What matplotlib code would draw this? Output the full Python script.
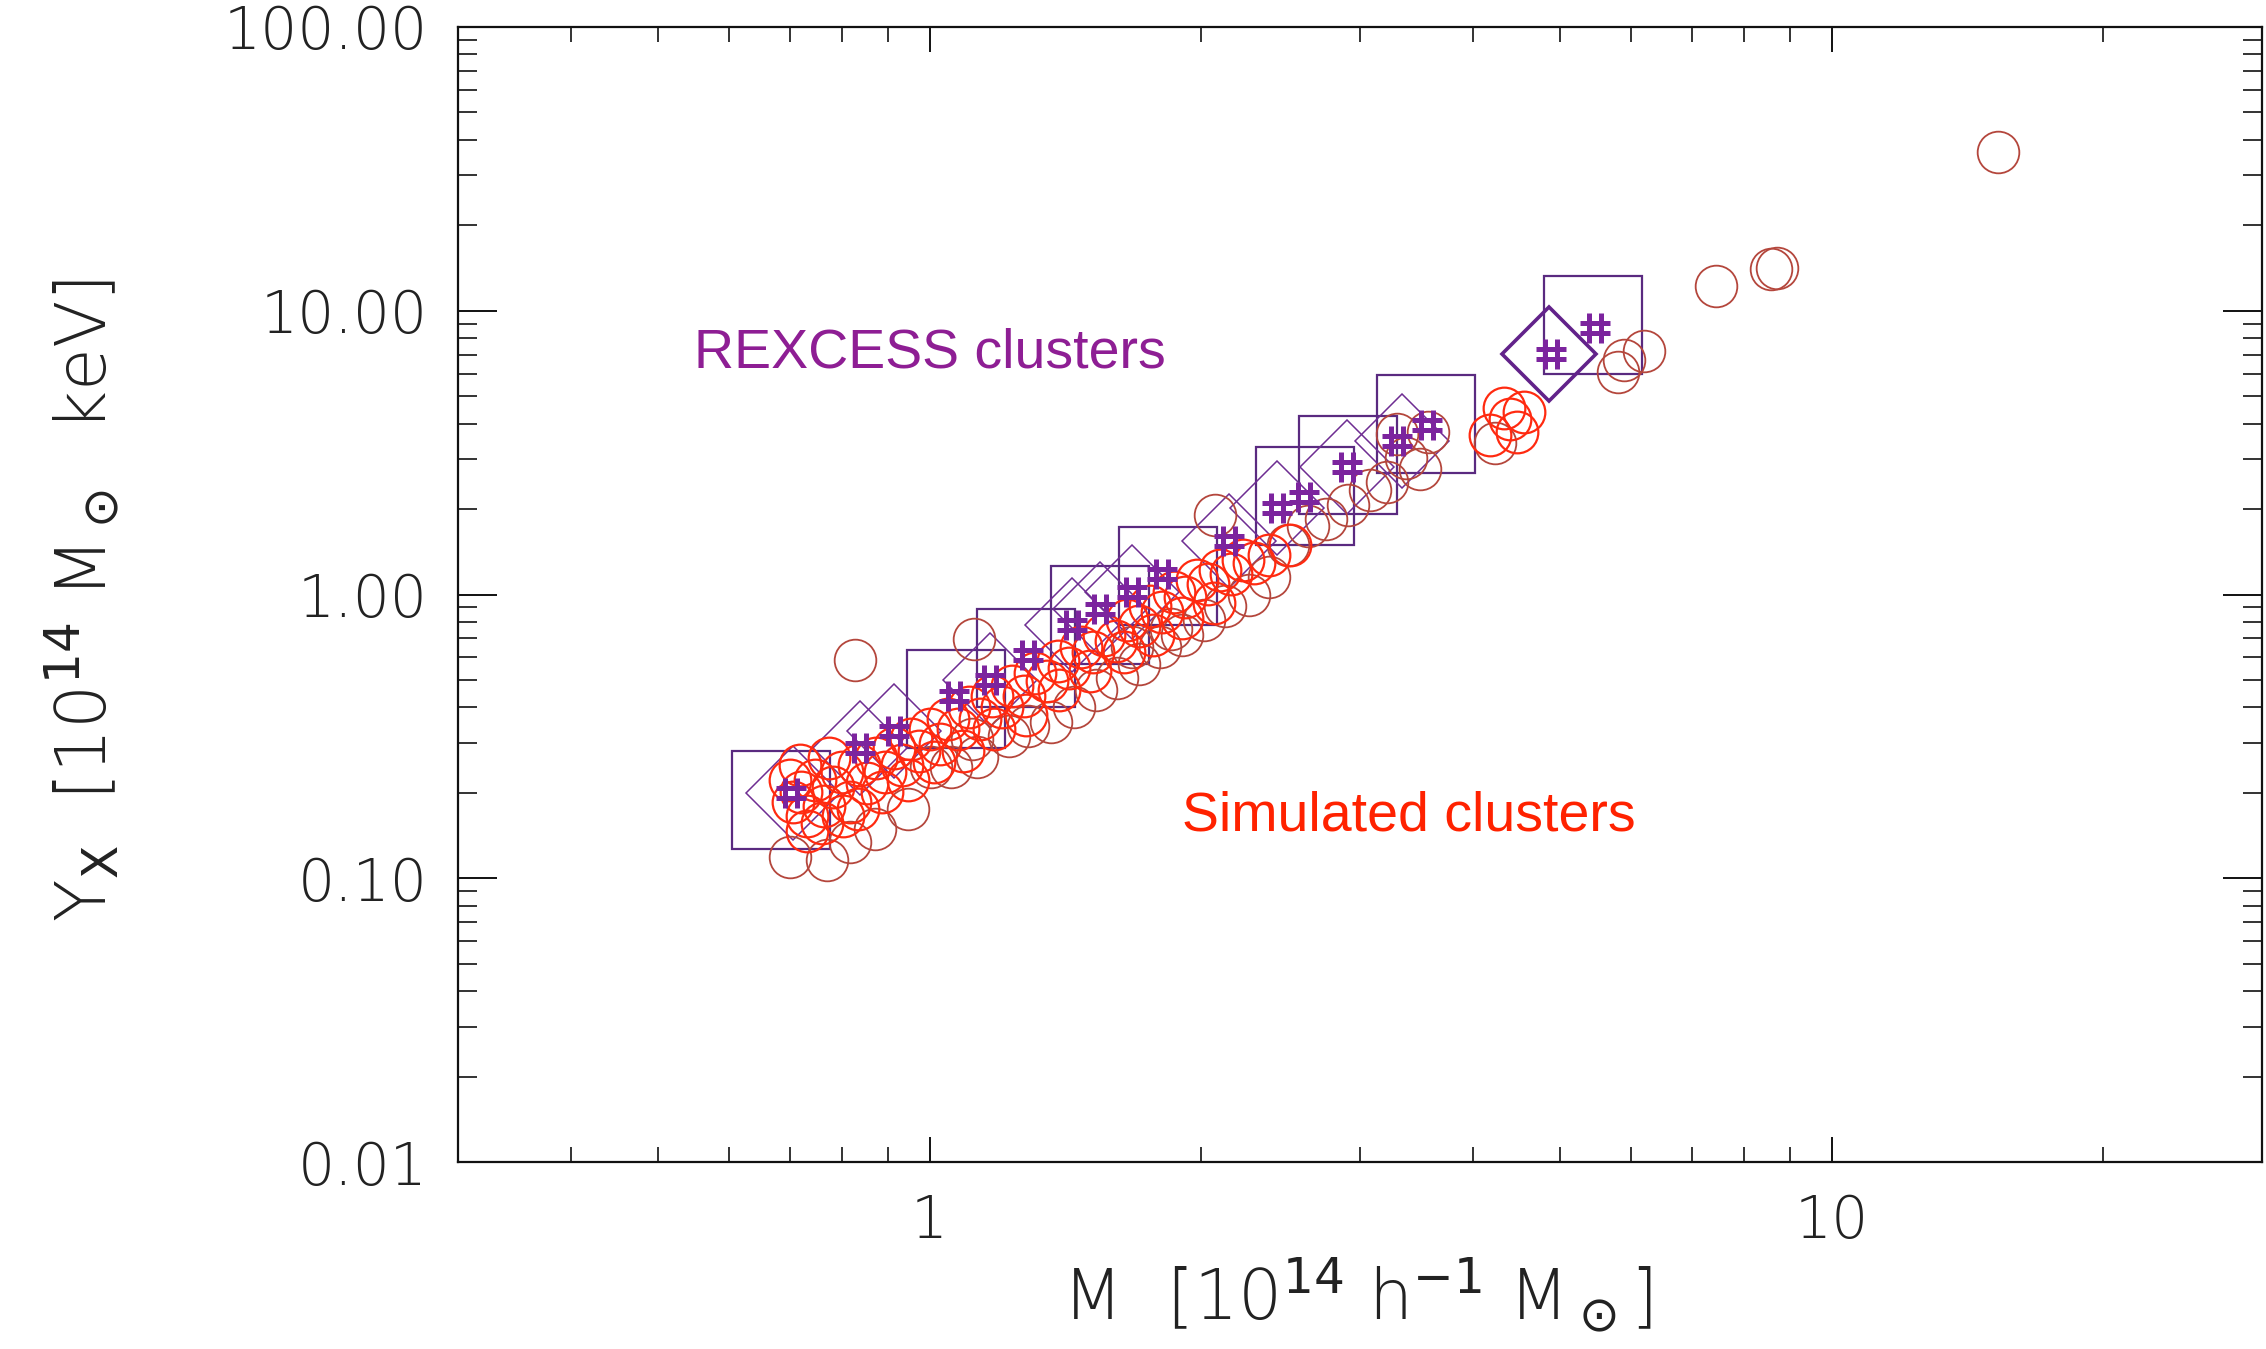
import matplotlib
matplotlib.use("Agg")
import matplotlib.pyplot as plt
from matplotlib.path import Path
from matplotlib.ticker import FixedLocator, FixedFormatter, LogLocator, NullFormatter

# ---------------- data ----------------
# REXCESS clusters: mass and Yx of every measured cluster ('#' symbols)
rex_M = [0.702, 0.838, 0.912, 1.065, 1.167, 1.285, 1.44, 1.545, 1.675, 1.81,
         2.15, 2.43, 2.60, 2.90, 3.30, 3.56, 4.88, 5.47]
rex_Y = [0.200, 0.288, 0.331, 0.439, 0.50, 0.61, 0.78, 0.889, 1.02, 1.18,
         1.545, 2.02, 2.20, 2.81, 3.47, 3.95, 7.03, 8.69]
# subset marked with squares
sq_M = [0.684, 1.069, 1.280, 1.545, 1.837, 2.606, 2.911, 3.55, 5.445]
sq_Y = [0.189, 0.429, 0.596, 0.848, 1.165, 2.22, 2.85, 4.0, 8.89]
# subset marked with diamonds
dm_M = [0.705, 0.838, 0.912, 1.167, 1.44, 1.545, 1.675, 2.15, 2.43, 2.90, 3.34]
dm_Y = [0.200, 0.288, 0.331, 0.50, 0.78, 0.889, 1.02, 1.545, 2.02, 2.81, 3.47]
# highlighted diamond
dmh_M = [4.86]
dmh_Y = [7.03]

# Simulated clusters (bright red circles)
simA_M = [0.705, 0.720, 0.731, 0.747, 0.764, 0.781, 0.799, 0.817, 0.835, 0.853,
          0.873, 0.892, 0.912, 0.932, 0.953, 0.974, 1.000, 1.026, 1.049, 1.076,
          1.105, 1.138, 1.172, 1.202, 1.234, 1.271, 1.309, 1.348, 1.388, 1.429,
          1.472, 1.516, 1.562, 1.608, 1.656, 1.706, 1.757, 1.810, 1.864, 1.920,
          1.977, 2.036, 2.097, 2.160, 2.225, 2.291, 0.731, 0.759, 0.700, 0.802,
          0.718, 0.773, 0.832, 0.885, 0.946, 1.011, 1.088, 1.180, 1.280, 1.393,
          1.505, 1.644, 1.770, 1.905, 2.066, 2.377, 2.512,
          4.40, 4.56, 4.18, 4.48, 4.33]
simA_Y = [0.186, 0.202, 0.166, 0.222, 0.180, 0.210, 0.236, 0.186, 0.250, 0.217,
          0.265, 0.236, 0.288, 0.250, 0.309, 0.281, 0.335, 0.298, 0.364, 0.335,
          0.400, 0.364, 0.439, 0.400, 0.477, 0.439, 0.530, 0.494, 0.582, 0.549,
          0.655, 0.625, 0.720, 0.687, 0.810, 0.772, 0.911, 0.869, 1.024, 0.977,
          1.125, 1.086, 1.221, 1.179, 1.326, 1.295, 0.147, 0.156, 0.222, 0.166,
          0.250, 0.265, 0.176, 0.202, 0.222, 0.256, 0.281, 0.335, 0.377, 0.461,
          0.537, 0.625, 0.720, 0.829, 0.932, 1.373, 1.491,
          4.14, 4.39, 3.64, 3.73, 4.55]

# Simulated clusters (darker red circles)
simB_M = [0.700, 0.770, 0.817, 0.869, 0.946, 1.004, 1.057, 1.129, 1.113, 1.225,
          1.285, 1.363, 1.445, 1.528, 1.614, 1.706, 1.803, 1.905, 2.014, 2.128,
          2.258, 2.377, 2.494, 2.625, 2.754, 2.911, 3.076, 3.215, 3.300, 3.373,
          3.499, 3.565, 2.07, 0.826, 1.121, 5.885, 6.19, 5.80, 7.45, 8.57,
          8.70, 15.28, 4.24, 1.850, 1.675]
simB_Y = [0.119, 0.116, 0.134, 0.149, 0.176, 0.247, 0.247, 0.268, 0.309, 0.316,
          0.343, 0.356, 0.400, 0.461, 0.506, 0.569, 0.655, 0.720, 0.810, 0.911,
          1.000, 1.152, 1.491, 1.737, 1.842, 2.071, 2.329, 2.500, 3.684, 3.018,
          2.779, 3.725, 1.91, 0.589, 0.695, 6.71, 7.2, 6.1, 12.2, 14.06,
          14.2, 36.4, 3.43, 0.754, 0.655]

x_ticks = [1, 10]
x_ticklabels = ["1", "10"]
y_ticks = [0.01, 0.1, 1, 10, 100]
y_ticklabels = ["0.01", "0.10", "1.00", "10.00", "100.00"]

# ---------------- figure ----------------
fig = plt.figure(figsize=(22.66, 13.49), dpi=100)
ax = fig.add_axes([0.2021, 0.1386, 0.7961, 0.8414])
ax.set_xscale("log")
ax.set_yscale("log")
ax.set_xlim(0.3, 30)
ax.set_ylim(0.01, 100)

sq_col = "#5a2a80"
dm_col = "#6e2d92"
hash_col = "#7c249e"
red_col = "#ff2a10"
brown_col = "#b4463c"

ax.plot(sq_M, sq_Y, linestyle="none", marker="s", markersize=71,
        markerfacecolor="none", markeredgecolor=sq_col, markeredgewidth=1.6, zorder=2)
ax.plot(dm_M, dm_Y, linestyle="none", marker="D", markersize=48,
        markerfacecolor="none", markeredgecolor=dm_col, markeredgewidth=1.1, zorder=2)
ax.plot(dmh_M, dmh_Y, linestyle="none", marker="D", markersize=48,
        markerfacecolor="none", markeredgecolor="#62228a", markeredgewidth=2.6, zorder=2)

ax.plot(simB_M, simB_Y, linestyle="none", marker="o", markersize=30,
        markerfacecolor="none", markeredgecolor=brown_col, markeredgewidth=1.3, zorder=3)
ax.plot(simA_M, simA_Y, linestyle="none", marker="o", markersize=30,
        markerfacecolor="none", markeredgecolor=red_col, markeredgewidth=1.6, zorder=4)

hash_path = Path([(-0.22, -0.6), (-0.22, 0.6), (0.22, -0.6), (0.22, 0.6),
                  (-0.6, -0.18), (0.6, -0.18), (-0.6, 0.18), (0.6, 0.18)],
                 [Path.MOVETO, Path.LINETO] * 4)
ax.plot(rex_M, rex_Y, linestyle="none", marker=hash_path, markersize=22,
        markerfacecolor="none", markeredgecolor=hash_col, markeredgewidth=3.6, zorder=5)

# ---------------- axes styling ----------------
for sp in ax.spines.values():
    sp.set_linewidth(1.6)
    sp.set_color("#111111")

ax.xaxis.set_major_locator(FixedLocator(x_ticks))
ax.xaxis.set_major_formatter(FixedFormatter(x_ticklabels))
ax.xaxis.set_minor_locator(LogLocator(base=10, subs=range(2, 10)))
ax.xaxis.set_minor_formatter(NullFormatter())
ax.yaxis.set_major_locator(FixedLocator(y_ticks))
ax.yaxis.set_major_formatter(FixedFormatter(y_ticklabels))
ax.yaxis.set_minor_locator(LogLocator(base=10, subs=range(2, 10)))
ax.yaxis.set_minor_formatter(NullFormatter())

ax.tick_params(which="both", direction="in", top=True, right=True, color="#111111")
ax.tick_params(axis="x", which="major", length=18, width=1.4, pad=22)
ax.tick_params(axis="x", which="minor", length=11, width=1.2)
ax.tick_params(axis="y", which="major", length=28, width=1.4, pad=22)
ax.tick_params(axis="y", which="minor", length=14, width=1.2)

for lab in ax.get_xticklabels() + ax.get_yticklabels():
    lab.set_fontfamily("DejaVu Sans")
    lab.set_fontsize(42)
    lab.set_color("#222222")
    lab.set_fontweight("light")

fig.text(0.599, 0.040, r"M  [10$^{14}$ h$^{-1}$ M$_\odot$]", ha="center", va="center",
         fontsize=50, color="#222222", family="DejaVu Sans", weight="light")
fig.text(0.036, 0.555, r"Y$_{\rm X}$  [10$^{14}$ M$_\odot$  keV]", ha="center", va="center",
         rotation=90, fontsize=50, color="#222222", family="DejaVu Sans", weight="light")

ax.text(0.1306, 0.712, "REXCESS clusters", transform=ax.transAxes, ha="left", va="center",
        fontsize=40, color="#8e1e94", family="Liberation Sans")
ax.text(0.4014, 0.3045, "Simulated clusters", transform=ax.transAxes, ha="left", va="center",
        fontsize=40, color="#ff2200", family="Liberation Sans")

fig.savefig("out.png", dpi=100, facecolor="white")
